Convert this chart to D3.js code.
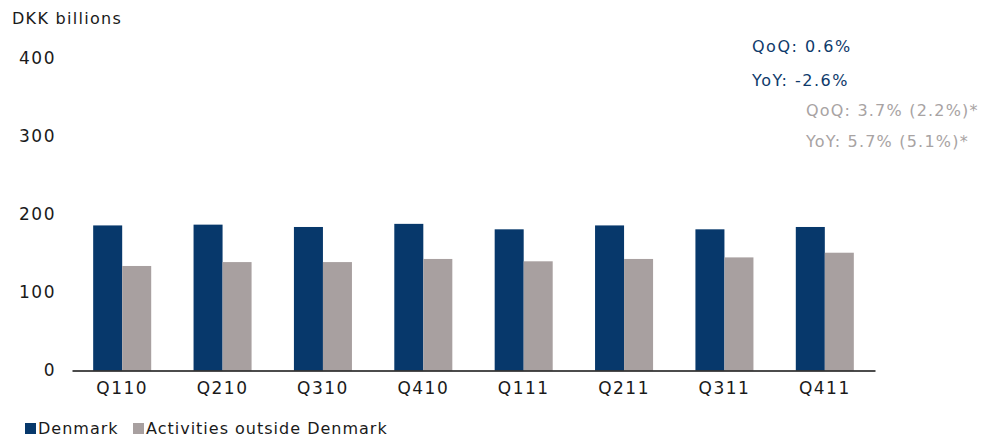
<!DOCTYPE html>
<html>
<head>
<meta charset="utf-8">
<script src="https://cdn.jsdelivr.net/npm/d3@7"></script>
<style>
  html, body { margin: 0; padding: 0; background: #fff; }
  svg { display: block; font-family: "DejaVu Sans", sans-serif; }
</style>
</head>
<body>
<svg id="chart" width="987" height="439"></svg>
<script>
const categories = ["Q110", "Q210", "Q310", "Q410", "Q111", "Q211", "Q311", "Q411"];
const seriesNames = ["Denmark", "Activities outside Denmark"];
const denmark = [186, 187, 184, 188, 181, 186, 181, 184];
const outside = [134, 139, 139, 143, 140, 143, 145, 151];
const yTicks = [0, 100, 200, 300, 400];
const colors = ["#07386b", "#a8a0a0"];
const annotBlue = ["QoQ: 0.6%", "YoY: -2.6%"];
const annotGrey = ["QoQ: 3.7% (2.2%)*", "YoY: 5.7% (5.1%)*"];

const svg = d3.select("#chart");

const x = d3.scaleBand().domain(categories).range([72, 875]).paddingInner(0).paddingOuter(0);
const xs = d3.scaleBand().domain(seriesNames).range([0, x.bandwidth()]).paddingInner(0).paddingOuter(0.73);
const y = d3.scaleLinear().domain([0, 400]).range([370.5, 58.5]);

// y tick labels (no gridlines)
svg.append("g").selectAll("text").data(yTicks).join("text")
  .attr("x", 56).attr("y", d => y(d)).attr("dy", "0.35em")
  .attr("text-anchor", "end").attr("font-size", 17).attr("letter-spacing", 1.5).attr("fill", "#1a1a1a")
  .text(d => d);

svg.append("text").attr("x", 12).attr("y", 24).attr("font-size", 16).attr("letter-spacing", 1.3)
  .attr("fill", "#1a1a1a").text("DKK billions");

// bars
const data = categories.map((c, i) => ({ c, vals: [denmark[i], outside[i]] }));
const groups = svg.append("g").selectAll("g").data(data).join("g")
  .attr("transform", d => `translate(${x(d.c)},0)`);
groups.selectAll("rect").data(d => d.vals.map((v, j) => ({ v, s: seriesNames[j], j }))).join("rect")
  .attr("x", d => xs(d.s)).attr("width", xs.bandwidth())
  .attr("y", d => y(d.v)).attr("height", d => y(0) - y(d.v))
  .attr("fill", d => colors[d.j]);

// x axis
const xAxis = d3.axisBottom(x).tickSize(0).tickPadding(11);
const gx = svg.append("g").attr("transform", `translate(0,${y(0)})`).call(xAxis);
gx.select(".domain").attr("stroke", "#111").attr("stroke-width", 1.5);
gx.selectAll("text").attr("font-size", 17).attr("letter-spacing", 1.5).attr("fill", "#1a1a1a")
  .attr("font-family", "DejaVu Sans, sans-serif");

// annotations
svg.append("g").selectAll("text").data(annotBlue).join("text")
  .attr("x", 752).attr("y", (d, i) => 52 + i * 34)
  .attr("font-size", 16).attr("letter-spacing", 1.5).attr("fill", "#0e3a6b").text(d => d);
svg.append("g").selectAll("text").data(annotGrey).join("text")
  .attr("x", 806).attr("y", (d, i) => 116 + i * 31)
  .attr("font-size", 16).attr("letter-spacing", 1.2).attr("fill", "#a8a3a3").text(d => d);

// legend
const legend = svg.append("g");
const lx = [25, 133];
seriesNames.forEach((n, i) => {
  legend.append("rect").attr("x", lx[i]).attr("y", 423).attr("width", 11).attr("height", 11).attr("fill", colors[i]);
  legend.append("text").attr("x", lx[i] + 13).attr("y", 434).attr("font-size", 16).attr("letter-spacing", 1)
    .attr("fill", "#1a1a1a").text(n);
});
</script>
</body>
</html>
